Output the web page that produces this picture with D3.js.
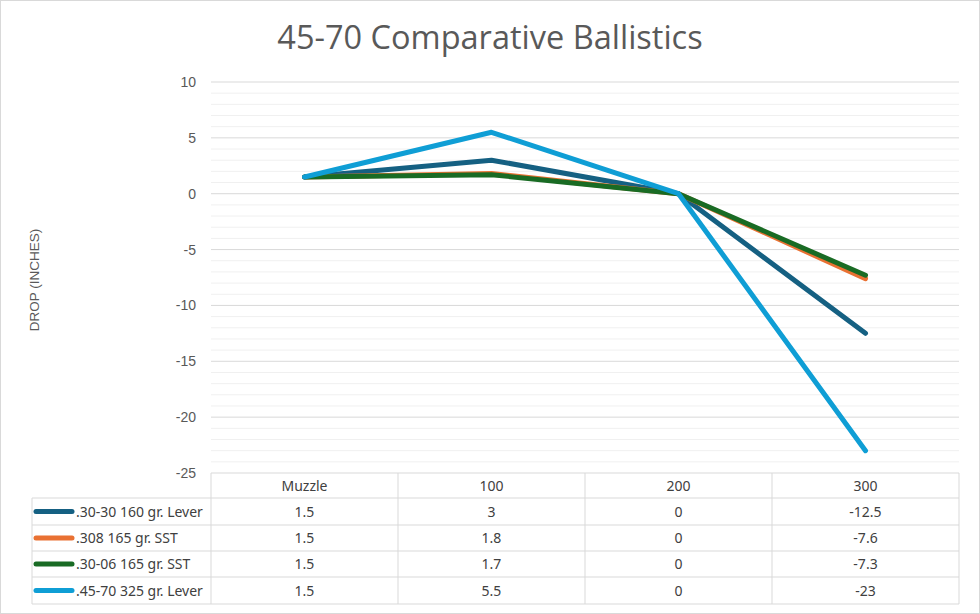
<!DOCTYPE html>
<html><head><meta charset="utf-8">
<script src="https://cdn.jsdelivr.net/npm/d3@7"></script>
<style>body{margin:0;background:#fff}svg{display:block}</style>
</head><body>
<script>
const categories = ["Muzzle", "100", "200", "300"];
const seriesNames = [".30-30 160 gr. Lever", ".308 165 gr. SST", ".30-06 165 gr. SST", ".45-70 325 gr. Lever"];
const s3030 = [1.5, 3, 0, -12.5];
const s308 = [1.5, 1.8, 0, -7.6];
const s3006 = [1.5, 1.7, 0, -7.3];
const s4570 = [1.5, 5.5, 0, -23];
const seriesColors = ["#156082", "#E97132", "#196B24", "#0F9ED5"];
const yTicks = [10, 5, 0, -5, -10, -15, -20, -25];
const series = [s3030, s308, s3006, s4570];

(function () {
const W = 980, H = 614;
const svg = d3.select("body").append("svg").attr("width", W).attr("height", H);
svg.append("rect").attr("x", 0.5).attr("y", 0.5).attr("width", W - 1).attr("height", H - 1)
  .attr("fill", "#fff").attr("stroke", "#d9d9d9");

const pLeft = 211, pRight = 959, pTop = 82, pBottom = 473;
const x = d3.scaleBand().domain(categories).range([pLeft, pRight]);
const y = d3.scaleLinear().domain([-25, 10]).range([pBottom, pTop]);

const minor = d3.range(-24, 10, 1).filter(v => v % 5 !== 0);
svg.append("g").selectAll("line").data(minor).join("line")
  .attr("x1", pLeft).attr("x2", pRight).attr("y1", d => y(d)).attr("y2", d => y(d))
  .attr("stroke", "#f0f0f0").attr("stroke-width", 1);
svg.append("g").selectAll("line").data(yTicks.filter(v => v > -25)).join("line")
  .attr("x1", pLeft).attr("x2", pRight).attr("y1", d => y(d)).attr("y2", d => y(d))
  .attr("stroke", "#d9d9d9").attr("stroke-width", 1);

const yAxis = d3.axisLeft(y).tickValues(yTicks).tickSize(0).tickPadding(0).tickFormat(d => String(d));
const ga = svg.append("g").attr("transform", `translate(${pLeft - 15},0)`).call(yAxis);
ga.select(".domain").remove();
ga.selectAll("text").attr("fill", "#595959").attr("font-size", 14)
  .attr("font-family", "Liberation Sans, Arial, sans-serif");

svg.append("text").attr("transform", "translate(39,280) rotate(-90)").attr("text-anchor", "middle")
  .attr("font-family", "Liberation Sans, Arial, sans-serif").attr("font-size", 13.5).attr("fill", "#595959")
  .text("DROP (INCHES)");

svg.append("text").attr("x", 490).attr("y", 49).attr("text-anchor", "middle")
  .attr("font-family", "Open Sans, sans-serif").attr("font-size", 32.5).attr("fill", "#595959")
  .text("45-70 Comparative Ballistics");

const line = d3.line().x((d, i) => x(categories[i]) + x.bandwidth() / 2).y(d => y(d));
const order = [0, 1, 2, 3];
svg.append("g").selectAll("path").data(order).join("path")
  .attr("d", i => line(series[i])).attr("fill", "none")
  .attr("stroke", i => seriesColors[i]).attr("stroke-width", 5)
  .attr("stroke-linejoin", "round").attr("stroke-linecap", "round");

const rowTops = [473, 498, 525, 551, 577, 604];
const tleft = 32;
const tg = svg.append("g");
const gridC = "#d9d9d9";
const fontT = "Noto Sans, sans-serif";
const fs = 14;
tg.append("line").attr("x1", pLeft).attr("x2", pRight).attr("y1", rowTops[0]).attr("y2", rowTops[0]).attr("stroke", gridC);
for (let r = 1; r < rowTops.length; r++) {
  tg.append("line").attr("x1", tleft).attr("x2", pRight).attr("y1", rowTops[r]).attr("y2", rowTops[r]).attr("stroke", gridC);
}
tg.append("line").attr("x1", tleft).attr("x2", tleft).attr("y1", rowTops[1]).attr("y2", rowTops[5]).attr("stroke", gridC);
const vxs = [pLeft, ...categories.map(c => x(c) + x.bandwidth())];
vxs.forEach(vx => tg.append("line").attr("x1", vx).attr("x2", vx).attr("y1", rowTops[0]).attr("y2", rowTops[5]).attr("stroke", gridC));

tg.selectAll("text.h").data(categories).join("text").attr("class", "h")
  .attr("x", d => x(d) + x.bandwidth() / 2).attr("y", (rowTops[0] + rowTops[1]) / 2 + 5)
  .attr("text-anchor", "middle").attr("font-family", fontT).attr("font-size", fs).attr("fill", "#404040").text(d => d);

series.forEach((s, i) => {
  const cy = (rowTops[i + 1] + rowTops[i + 2]) / 2;
  tg.append("line").attr("x1", 36).attr("x2", 72).attr("y1", cy).attr("y2", cy)
    .attr("stroke", seriesColors[i]).attr("stroke-width", 5).attr("stroke-linecap", "round");
  tg.append("text").attr("x", 76).attr("y", cy + 5).attr("font-family", fontT).attr("font-size", fs)
    .attr("fill", "#404040").text(seriesNames[i]);
  tg.selectAll(null).data(s).join("text")
    .attr("x", (d, j) => x(categories[j]) + x.bandwidth() / 2).attr("y", cy + 5)
    .attr("text-anchor", "middle").attr("font-family", fontT).attr("font-size", fs).attr("fill", "#404040")
    .text(d => String(d));
});
})();
</script>
</body></html>
